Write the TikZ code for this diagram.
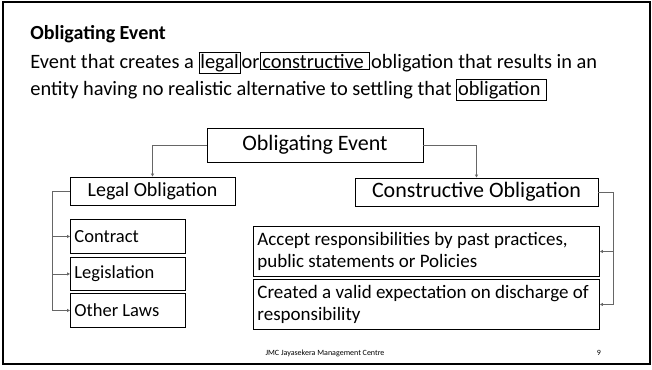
\documentclass[tikz,border=0pt]{standalone}
\usepackage{fontspec}
\setmainfont{Carlito}
\usetikzlibrary{arrows.meta}

\tikzset{every picture/.style={line width=0.75pt}}
\setlength{\fboxsep}{1pt}
\setlength{\fboxrule}{0.8pt}

\begin{document}
\begin{tikzpicture}[x=1pt,y=1pt,yscale=-1,xscale=1,
  box/.style={draw, line width=0.9pt, inner sep=0pt},
  itembox/.style={box, anchor=north west, align=flush left, inner xsep=4pt},
  link/.style={draw=black!60, line width=0.75pt, -{Triangle[length=3pt,width=3pt]}},
  bus/.style={draw=black!60, line width=0.75pt}]
\useasboundingbox (0,0) rectangle (652,369);

%Slide frame
\draw [line width=1.2pt] (3,2) rectangle (650,364);

% Text Node
\node [anchor=base west, inner sep=0pt, font=\fontsize{20}{23}\selectfont\bfseries] (title) at (30,40) {Obligating Event};
% Text Node (anchored at the base of its last line)
\node [anchor=base west, inner sep=0pt, align=left, font=\fontsize{20.4}{27}\selectfont] (defn) at (30,95)
  {Event that creates a \fbox{legal}\hspace{1pt}or\hspace{1pt}\fbox{constructive\ }\hspace{1pt}obligation that results in an\\
   entity having no realistic alternative to settling that \fbox{obligation\ }};

%Boxes
\node [box, minimum width=216, minimum height=34, font=\fontsize{22}{26}\selectfont] (event) at (315,145) {Obligating Event};
\node [box, minimum width=165, minimum height=28, font=\fontsize{20}{23}\selectfont] (legal) at (152.5,191) {Legal Obligation};
\node [box, minimum width=243, minimum height=28, font=\fontsize{22}{25}\selectfont] (constr) at (476.5,192) {Constructive Obligation};

\node [itembox, text width=107, minimum height=34, font=\fontsize{18.5}{21}\selectfont] (contract) at (70,219) {Contract};
\node [itembox, text width=107, minimum height=33, font=\fontsize{18.5}{21}\selectfont] (legis) at (70,257) {Legislation};
\node [itembox, text width=107, minimum height=34, font=\fontsize{18.5}{21}\selectfont] (other) at (70,293) {Other Laws};

\node [itembox, text width=338, minimum height=50, font=\fontsize{19}{22}\selectfont] (accept) at (253,226)
  {Accept responsibilities by past practices,\\public statements or Policies};
\node [itembox, text width=338, minimum height=50, font=\fontsize{19}{22}\selectfont] (created) at (253,279)
  {Created a valid expectation on discharge of\\responsibility};

%Connectors
\draw [link] (event.west) -| (legal.north);
\draw [link] (event.east) -| (constr.north);

\coordinate (lbus) at (52,191);
\draw [bus] (legal.west) -- (lbus);
\draw [link] (lbus) |- (other.west);
\draw [link] (lbus |- contract.west) -- (contract.west);
\draw [link] (lbus |- legis.west) -- (legis.west);

\coordinate (rbus) at (613,192);
\draw [bus] (constr.east) -- (rbus);
\draw [link] (rbus) |- (created.east);
\draw [link] (rbus |- accept.east) -- (accept.east);

% Footer
\node [font=\fontsize{8}{10}\selectfont] (footer) at (325,353) {JMC Jayasekera Management Centre};
\node [font=\fontsize{8}{10}\selectfont] (page) at (599,353) {9};

\end{tikzpicture}
\end{document}
